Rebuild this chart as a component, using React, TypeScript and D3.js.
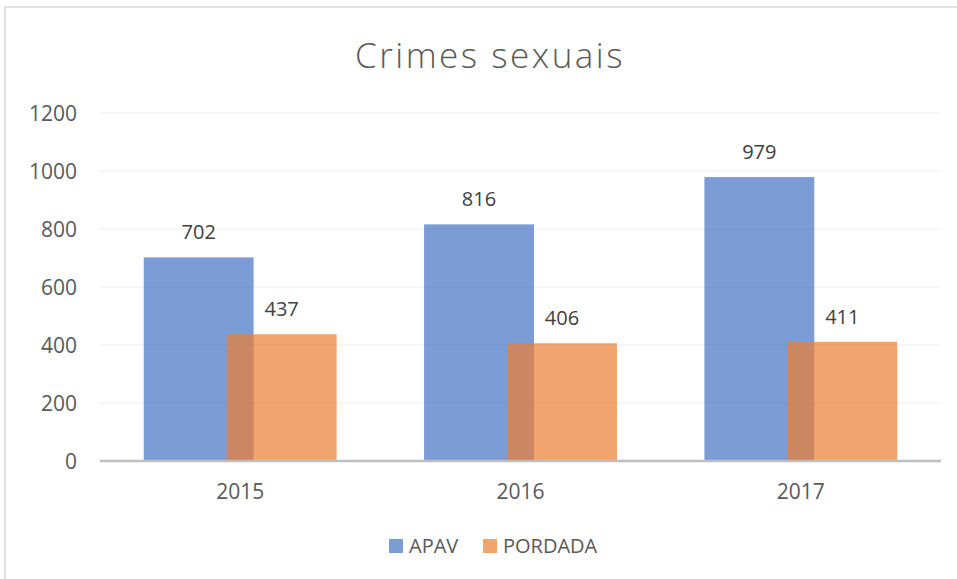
import React from 'react';
import * as d3 from 'd3';

const years = ['2015', '2016', '2017'];
const apav = [702, 816, 979];
const pordada = [437, 406, 411];
const seriesNames = ['APAV', 'PORDADA'];
const yTicks = [0, 200, 400, 600, 800, 1000, 1200];

const colors = ['#4472C4', '#ED7D31'];

const width = 957,
  height = 579;
const margin = { top: 113, right: 16, bottom: 118, left: 100 };

export default function App() {
  const innerW = width - margin.left - margin.right;
  const innerH = height - margin.top - margin.bottom;

  const x = d3.scaleBand().domain(years).range([0, innerW]);
  const y = d3.scaleLinear().domain([0, 1200]).range([innerH, 0]);

  // bars are wide and overlap each other inside a category
  const barW = x.bandwidth() * 0.392;
  const shift = x.bandwidth() * 0.296;
  const series = [apav, pordada];
  const font = '"Open Sans", "Segoe UI", sans-serif';

  return (
    <div style={{ position: 'absolute', left: 0, top: 0 }}>
      <svg width={width} height={height} style={{ display: 'block' }}>
        <rect x={0} y={0} width={width} height={height} fill="#fff" />
        <rect x={5} y={7} width={980} height={620} fill="none" stroke="#d9d9d9" strokeWidth={1.5} />
        <text
          x={490}
          y={68}
          textAnchor="middle"
          fontFamily={font}
          fontWeight={300}
          fontSize={35}
          letterSpacing={2.5}
          fill="#595959"
        >
          Crimes sexuais
        </text>
        <g transform={`translate(${margin.left},${margin.top})`}>
          {yTicks.map((t) => (
            <g key={t}>
              {t > 0 && (
                <line x1={0} x2={innerW} y1={y(t)} y2={y(t)} stroke="#eeeeee" strokeWidth={1.2} />
              )}
              <text
                x={-23}
                y={y(t)}
                dy="0.36em"
                textAnchor="end"
                fontFamily={font}
                fontSize={21}
                fill="#595959"
              >
                {t}
              </text>
            </g>
          ))}
          {series.map((vals, si) =>
            vals.map((v, i) => {
              const cx = x(years[i])! + x.bandwidth() / 2;
              const bx = cx - barW / 2 + (si === 0 ? -shift / 2 : shift / 2);
              return (
                <g key={si + '-' + i}>
                  <rect
                    x={bx}
                    y={y(v)}
                    width={barW}
                    height={innerH - y(v)}
                    fill={colors[si]}
                    fillOpacity={0.7}
                  />
                  <text
                    x={bx + barW / 2}
                    y={y(v) - 18}
                    textAnchor="middle"
                    fontFamily={font}
                    fontSize={20}
                    fill="#404040"
                  >
                    {v}
                  </text>
                </g>
              );
            })
          )}
          <line x1={0} x2={innerW} y1={innerH} y2={innerH} stroke="#bfbfbf" strokeWidth={2.5} />
          {years.map((yr) => (
            <text
              key={yr}
              x={x(yr)! + x.bandwidth() / 2}
              y={innerH + 38}
              textAnchor="middle"
              fontFamily={font}
              fontSize={21}
              fill="#595959"
            >
              {yr}
            </text>
          ))}
        </g>
        {seriesNames.map((name, i) => {
          const lx = [389, 483][i];
          return (
            <g key={name}>
              <rect x={lx} y={539} width={14} height={14} fill={colors[i]} fillOpacity={0.7} />
              <text x={lx + 20} y={553} fontFamily={font} fontSize={20} fill="#595959">
                {name}
              </text>
            </g>
          );
        })}
      </svg>
    </div>
  );
}
